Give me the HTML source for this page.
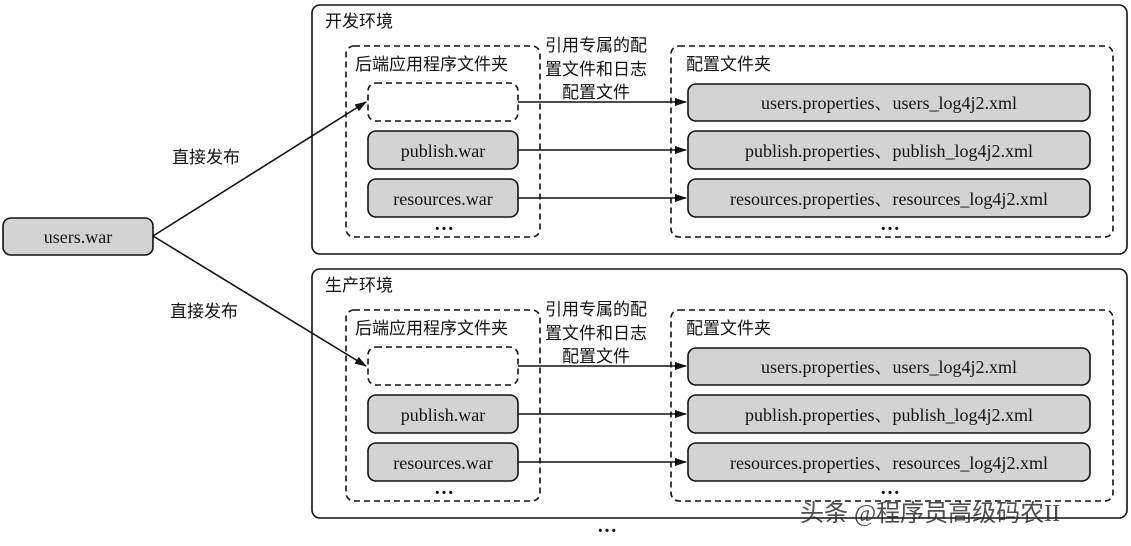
<!DOCTYPE html>
<html><head><meta charset="utf-8"><style>
html,body{margin:0;padding:0;background:#fff;}
svg text{font-family:"Liberation Serif","Noto Serif CJK SC",serif;font-size:18px;fill:#111;}
.cn{font-family:"Liberation Serif","Noto Sans CJK SC",sans-serif;font-size:17px;}
.dots{font-size:20px;font-weight:bold;letter-spacing:-2px;}
</style></head><body>
<svg width="1131" height="541" viewBox="0 0 1131 541" xmlns="http://www.w3.org/2000/svg">
<defs><marker id="a" markerWidth="12" markerHeight="8" refX="11" refY="4" orient="auto" markerUnits="userSpaceOnUse"><path d="M0,0 L12,4 L0,8 Z" fill="#111"/></marker></defs>
<g stroke="#111" stroke-width="1.6" fill="none">
<rect x="3" y="218" width="150" height="37" rx="8" fill="#d3d3d3"/>
<line x1="153" y1="236" x2="366" y2="102" marker-end="url(#a)"/>
<line x1="153" y1="236" x2="366" y2="366" marker-end="url(#a)"/>
</g>
<text x="78" y="243" text-anchor="middle">users.war</text>
<text class="cn" x="172" y="163">直接发布</text>
<text class="cn" x="170" y="317">直接发布</text>

<g id="env">
<g stroke="#111" stroke-width="1.6" fill="none">
<rect x="312" y="5" width="815" height="249" rx="8"/>
<rect x="346" y="46" width="194" height="191" rx="8" stroke-dasharray="6,4"/>
<rect x="671" y="46" width="442" height="191" rx="8" stroke-dasharray="6,4"/>
<rect x="368" y="83" width="150" height="38" rx="8" stroke-dasharray="6,4"/>
<rect x="368" y="131" width="150" height="38" rx="8" fill="#d3d3d3"/>
<rect x="368" y="179" width="150" height="38" rx="8" fill="#d3d3d3"/>
<rect x="688" y="84" width="402" height="37" rx="8" fill="#d3d3d3"/>
<rect x="688" y="131" width="402" height="38" rx="8" fill="#d3d3d3"/>
<rect x="688" y="179" width="402" height="38" rx="8" fill="#d3d3d3"/>
<line x1="518" y1="102" x2="686" y2="102" marker-end="url(#a)"/>
<line x1="518" y1="150" x2="686" y2="150" marker-end="url(#a)"/>
<line x1="518" y1="198" x2="686" y2="198" marker-end="url(#a)"/>
</g>
<text class="cn" x="355" y="70">后端应用程序文件夹</text>
<text class="cn" x="686" y="70">配置文件夹</text>
<text class="cn" x="596" y="51" text-anchor="middle">引用专属的配</text>
<text class="cn" x="596" y="75" text-anchor="middle">置文件和日志</text>
<text class="cn" x="596" y="98" text-anchor="middle">配置文件</text>
<text x="443" y="157" text-anchor="middle">publish.war</text>
<text x="443" y="205" text-anchor="middle">resources.war</text>
<text x="889" y="109" text-anchor="middle">users.properties、users_log4j2.xml</text>
<text x="889" y="157" text-anchor="middle">publish.properties、publish_log4j2.xml</text>
<text x="889" y="205" text-anchor="middle">resources.properties、resources_log4j2.xml</text>
<text class="dots" x="443" y="230" text-anchor="middle">…</text>
<text class="dots" x="889" y="230" text-anchor="middle">…</text>
</g>
<use href="#env" transform="translate(0,264)"/>
<text class="cn" x="325" y="27">开发环境</text>
<text class="cn" x="325" y="291">生产环境</text>
<text class="dots" x="606" y="532" text-anchor="middle">…</text>
<text class="cn" x="800" y="521" style="font-size:24px;fill:#222;opacity:.8">头条 @程序员高级码农II</text>
</svg>
</body></html>
